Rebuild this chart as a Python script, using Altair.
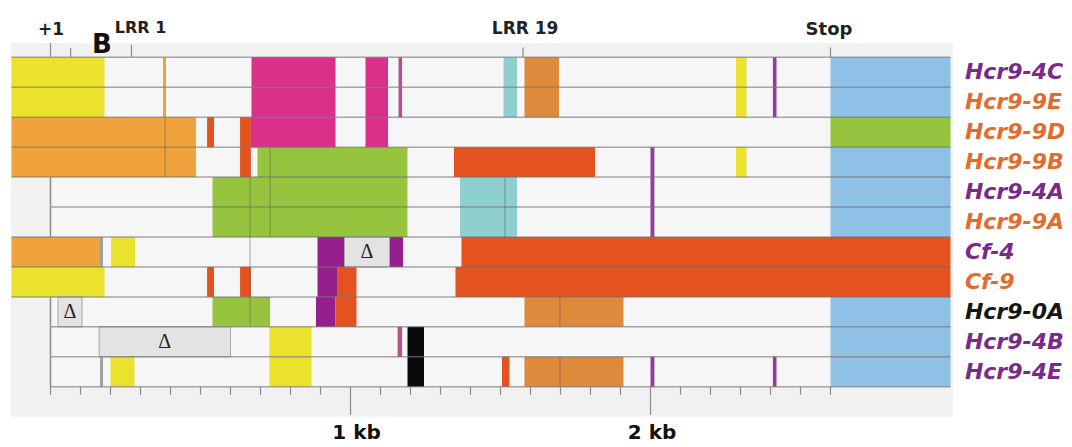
import altair as alt
import pandas as pd

# ---------------- data (positions in bp, +1 = 0) ----------------
rows = ["Hcr9-4C", "Hcr9-9E", "Hcr9-9D", "Hcr9-9B", "Hcr9-4A", "Hcr9-9A",
        "Cf-4", "Cf-9", "Hcr9-0A", "Hcr9-4B", "Hcr9-4E"]
row_origin = ["4", "9", "9", "9", "4", "9", "4", "9", "0", "4", "4"]
row_begin_bp = [-130, -130, -130, -130, 0, 0, -130, -130, 0, 0, 0]
ROW_END_BP = 3000

b_4C = [(-130, 180, "yellow"), (375, 385, "lightorange"), (670, 950, "magenta"),
        (1050, 1125, "magenta"), (1160, 1172, "mauve"), (1510, 1555, "teal"),
        (1580, 1695, "brown"), (2285, 2320, "yellow"), (2408, 2420, "violet"),
        (2600, 3000, "blue")]
b_9E = [(-130, 180, "yellow"), (375, 385, "lightorange"), (670, 950, "magenta"),
        (1050, 1125, "magenta"), (1160, 1172, "mauve"), (1510, 1555, "teal"),
        (1580, 1695, "brown"), (2285, 2320, "yellow"), (2408, 2420, "violet"),
        (2600, 3000, "blue")]
b_9D = [(-130, 485, "lightorange"), (522, 545, "red"), (632, 668, "red"),
        (668, 950, "magenta"), (1050, 1125, "magenta"), (2600, 3000, "green")]
b_9B = [(-130, 485, "lightorange"), (632, 668, "red"), (690, 1190, "green"),
        (1345, 1815, "red"), (2000, 2013, "violet"), (2285, 2320, "yellow"),
        (2600, 3000, "blue")]
b_4A = [(540, 1190, "green"), (1365, 1555, "teal"), (2000, 2013, "violet"),
        (2600, 3000, "blue")]
b_9A = [(540, 1190, "green"), (1365, 1555, "teal"), (2000, 2013, "violet"),
        (2600, 3000, "blue")]
b_Cf4 = [(-130, 165, "lightorange"), (165, 175, "grey"), (202, 282, "yellow"),
         (890, 980, "purple"), (980, 1130, "delta"), (1130, 1175, "purple"),
         (1370, 3000, "red")]
b_Cf9 = [(-130, 180, "yellow"), (522, 545, "red"), (632, 668, "red"),
         (890, 955, "purple"), (955, 1020, "red"), (1350, 3000, "red")]
b_0A = [(25, 105, "delta"), (540, 732, "green"), (885, 950, "purple"),
        (950, 1020, "red"), (1580, 1910, "brown"), (2600, 3000, "blue")]
b_4B = [(162, 600, "delta"), (730, 870, "yellow"), (1157, 1172, "mauve"),
        (1190, 1245, "black"), (2600, 3000, "blue")]
b_4E = [(165, 175, "grey"), (200, 280, "yellow"), (730, 870, "yellow"),
        (1190, 1245, "black"), (1505, 1530, "red"), (1580, 1910, "brown"),
        (2000, 2013, "violet"), (2408, 2420, "violet"), (2600, 3000, "blue")]
row_blocks = [b_4C, b_9E, b_9D, b_9B, b_4A, b_9A, b_Cf4, b_Cf9, b_0A, b_4B, b_4E]

# faint boundary marks inside blocks: (bp, first row, last row)
dividers = [(382, 2, 3), (665, 4, 8), (732, 3, 5), (1515, 4, 5), (1698, 8, 8), (1698, 10, 10)]

axis_ticks_bp = list(range(0, 2601, 100))
axis_labels = ["1 kb", "2 kb"]
axis_label_bp = [1020, 2005]
top_tick_bp = [0, 67, 270, 1575, 2600]
top_labels = ["+1", "LRR 1", "LRR 19", "Stop"]
top_label_bp = [2, 300, 1582, 2595]

kinds = ["yellow", "lightorange", "magenta", "mauve", "teal", "brown", "red",
         "green", "blue", "purple", "violet", "grey", "black"]
kind_colors = ["#ebe22e", "#f0a33c", "#d9318a", "#b0558c", "#8fcfd0", "#de8a3c", "#e3521f",
               "#97c43e", "#8ec1e5", "#961f8e", "#8e3f96", "#a0a0a0", "#0a0a0a"]
origin_domain = ["4", "9", "0"]
origin_colors = ["#7a2a8a", "#e36b2d", "#151515"]

# ---------------- build tables ----------------
seg = []
for i, blocks in enumerate(row_blocks):
    for s, e, k in blocks:
        seg.append(dict(x=s, x2=e, y=i, y2=i + 1, kind=k))
seg = pd.DataFrame(seg)
solid = seg[seg.kind != "delta"]
delta = seg[seg.kind == "delta"].copy()
delta["xc"] = (delta.x + delta.x2) / 2
delta["yc"] = delta.y + 0.5
delta["t"] = "Δ"

rowbg = pd.DataFrame(dict(x=row_begin_bp, x2=[ROW_END_BP] * len(rows),
                          y=list(range(len(rows))), y2=[i + 1 for i in range(len(rows))]))

sep = []
for b in range(len(rows) + 1):
    adj = [row_begin_bp[r] for r in (b - 1, b) if 0 <= r < len(rows)]
    sep.append(dict(x=min(adj), x2=ROW_END_BP, y=b))
sep = pd.DataFrame(sep)

left = pd.DataFrame([dict(x=0, y=i, y2=i + 1) for i, b in enumerate(row_begin_bp) if b == 0])
div = pd.DataFrame([dict(x=x, y=a, y2=b + 1) for x, a, b in dividers])

n = len(rows)
ticks = pd.DataFrame(dict(x=axis_ticks_bp, y=[n] * len(axis_ticks_bp),
                          y2=[n + (0.94 if t in (1000, 2000) else 0.27) for t in axis_ticks_bp]))
axlab = pd.DataFrame(dict(x=axis_label_bp, t=axis_labels, y=[12.76] * 2))
tticks = pd.DataFrame(dict(x=top_tick_bp, y=[-0.47, -0.3, -0.42, -0.33, -0.33], y2=[0] * 5))
tlab = pd.DataFrame(dict(x=top_label_bp, t=top_labels, y=[-0.745, -0.811, -0.778, -0.745],
                         fs=[17, 16, 17, 18]))
labels = pd.DataFrame(dict(t=rows, origin=row_origin, y=[i + 0.5 for i in range(n)],
                           x=[3048] * n))

# ---------------- scales ----------------
xs = alt.Scale(domain=[-141.67, 3378.33], nice=False, zero=False)
ys = alt.Scale(domain=[-1.646, 13.012], nice=False, zero=False, reverse=True)
X = lambda f: alt.X(f"{f}:Q", scale=xs, axis=None)
Y = lambda f: alt.Y(f"{f}:Q", scale=ys, axis=None)

panel = alt.Chart(pd.DataFrame(dict(x=[-132], x2=[3008], y=[-0.48], y2=[12.0]))).mark_rect(
    color="#f1f1f1").encode(x=X("x"), x2="x2", y=Y("y"), y2="y2")
rowfill = alt.Chart(rowbg).mark_rect(color="#f6f6f6").encode(x=X("x"), x2="x2", y=Y("y"), y2="y2")
blocks = alt.Chart(solid).mark_rect(strokeWidth=0).encode(
    x=X("x"), x2="x2", y=Y("y"), y2="y2",
    color=alt.Color("kind:N", scale=alt.Scale(domain=kinds, range=kind_colors), legend=None))
dbox = alt.Chart(delta).mark_rect(fill="#e3e3e3", stroke="#a8a8a8", strokeWidth=1).encode(
    x=X("x"), x2="x2", y=Y("y"), y2="y2")
dtext = alt.Chart(delta).mark_text(font="Liberation Serif", fontSize=20, color="#222",
                                   baseline="middle", align="center").encode(
    x=X("xc"), y=Y("yc"), text="t:N")
divl = alt.Chart(div).mark_rule(color="#555", opacity=0.35, strokeWidth=1.5).encode(
    x=X("x"), y=Y("y"), y2="y2")
sepl = alt.Chart(sep).mark_rule(color="#6f6f6f", opacity=0.6, strokeWidth=1.5).encode(
    x=X("x"), x2="x2", y=Y("y"))
leftl = alt.Chart(left).mark_rule(color="#8a8a8a", strokeWidth=1.5).encode(
    x=X("x"), y=Y("y"), y2="y2")
tickl = alt.Chart(ticks).mark_rule(color="#8a8a8a", strokeWidth=1.2).encode(
    x=X("x"), y=Y("y"), y2="y2")
axt = alt.Chart(axlab).mark_text(font="DejaVu Sans", fontWeight="bold", fontSize=20,
                                 color="#111", align="center", baseline="alphabetic").encode(
    x=X("x"), y=Y("y"), text="t:N")
ttick = alt.Chart(tticks).mark_rule(color="#8a8a8a", strokeWidth=1.2).encode(
    x=X("x"), y=Y("y"), y2="y2")
ttext = alt.Chart(tlab).mark_text(font="DejaVu Sans", fontWeight="bold", color="#222",
                                  align="center", baseline="alphabetic").encode(
    x=X("x"), y=Y("y"), text="t:N", size=alt.Size("fs:Q", scale=None, legend=None))
panel_b = alt.Chart(pd.DataFrame(dict(x=[138], y=[-0.144], t=["B"]))).mark_text(
    font="DejaVu Sans", fontWeight="bold", fontSize=26, color="#111", align="left",
    baseline="alphabetic").encode(x=X("x"), y=Y("y"), text="t:N")
rlab = alt.Chart(labels).mark_text(font="DejaVu Sans", fontWeight="bold", fontStyle="italic",
                                   fontSize=22, align="left", baseline="middle").encode(
    x=X("x"), y=Y("y"), text="t:N",
    color=alt.Color("origin:N", scale=alt.Scale(domain=origin_domain, range=origin_colors),
                    legend=None))

chart = alt.layer(panel, rowfill, blocks, dbox, dtext, divl, sepl, leftl, tickl, axt,
                  ttick, ttext, panel_b, rlab).resolve_scale(color="independent").properties(
    width=1056, height=439, padding=0, autosize=alt.AutoSizeParams(type="none"),
    background="white").configure_view(stroke=None)

chart.save("out.html", embed_options={"renderer": "svg", "actions": False})
